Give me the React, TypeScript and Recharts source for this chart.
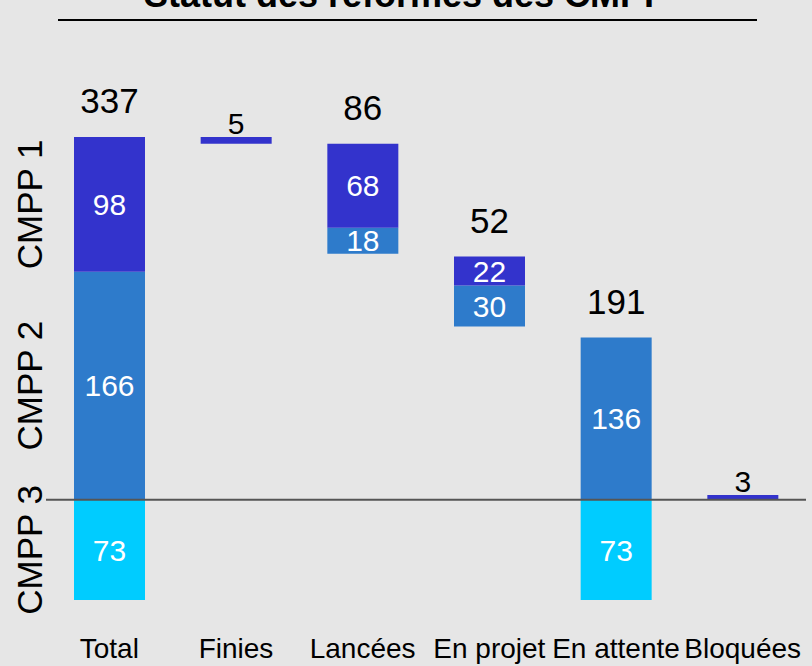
import React from 'react';
import { BarChart, Bar, XAxis, YAxis, ReferenceLine, LabelList } from 'recharts';

// categories and values
const categories = ['Total', 'Finies', 'Lancées', 'En projet', 'En attente', 'Bloquées'];
const seriesNames = ['CMPP 1', 'CMPP 2', 'CMPP 3'];

// floating segments [low, high] per category
const cmpp1Range: (number[] | null)[] = [[166, 264], [259, 264], [198, 259], [156, 177], null, [0, 3.5]];
const cmpp2Range: (number[] | null)[] = [[0, 166], null, [179, 198], [126, 156], [0, 118], null];
const cmpp3Range: (number[] | null)[] = [[-73, 0], null, null, null, [-73, 0], null];

// numbers printed in the segments
const cmpp1Labels = [98, null, 68, 22, null, null];
const cmpp2Labels = [166, null, 18, 30, 136, null];
const cmpp3Labels = [73, null, null, null, 73, null];

// numbers printed above each column
const totals = [337, 5, 86, 52, 191, 3];

const COLORS = ['#3333cc', '#2e7bcb', '#00ccff'];
const FONT = '"Liberation Sans", Arial, sans-serif';

const data = categories.map((name, i) => {
  const parts = [cmpp1Range[i], cmpp2Range[i], cmpp3Range[i]].filter(Boolean) as number[][];
  const span = [Math.min(...parts.map((p) => p[0])), Math.max(...parts.map((p) => p[1]))];
  return {
    name,
    c1: cmpp1Range[i],
    c2: cmpp2Range[i],
    c3: cmpp3Range[i],
    span,
    l1: cmpp1Labels[i],
    l2: cmpp2Labels[i],
    l3: cmpp3Labels[i],
    total: totals[i],
  };
});

// side labels sit at the middle of each segment of the Total column
const totalRanges = [cmpp1Range[0], cmpp2Range[0], cmpp3Range[0]] as number[][];
const sideTicks = totalRanges.map((r) => (r[0] + r[1]) / 2);

const SideTick = (props: any) => {
  const { x, y, payload } = props;
  const idx = sideTicks.indexOf(payload.value);
  return (
    <text
      transform={`translate(${x}, ${y}) rotate(-90)`}
      textAnchor="middle"
      dominantBaseline="central"
      fontSize={35}
      fontFamily={FONT}
      fill="#000"
    >
      {seriesNames[idx]}
    </text>
  );
};

const TopLabel = (props: any) => {
  const { x, y, width, height, value } = props;
  if (value == null) return null;
  const top = Math.min(Number(y), Number(y) + Number(height));
  const thin = Math.abs(Number(height)) < 12;
  return (
    <text
      x={Number(x) + Number(width) / 2}
      y={top - (thin ? 3 : 24)}
      textAnchor="middle"
      fontSize={thin ? 30 : 35}
      fontFamily={FONT}
      fill="#000"
    >
      {value}
    </text>
  );
};

const innerLabel = { fill: '#fff', fontSize: 30, fontFamily: FONT };

export default function App() {
  return (
    <div style={{ position: 'relative', width: 812, height: 666, background: '#e6e6e6', overflow: 'hidden', fontFamily: FONT }}>
      <style>{'body{margin:0}'}</style>
      <div
        style={{
          position: 'absolute',
          top: -23,
          left: 0,
          width: 812,
          textAlign: 'center',
          fontSize: 36,
          lineHeight: '36px',
          fontWeight: 'bold',
          color: '#000',
        }}
      >
        Statut des réformes des CMPP
      </div>
      <div style={{ position: 'absolute', top: 19, left: 58, width: 699, height: 2, background: '#000' }} />
      <BarChart
        width={812}
        height={666}
        data={data}
        margin={{ top: 137, right: 6, bottom: 0, left: 0 }}
        barSize={71}
        barGap={-71}
      >
        <XAxis
          dataKey="name"
          axisLine={false}
          tickLine={false}
          tickSize={0}
          tickMargin={38}
          height={66}
          interval={0}
          tick={{ fill: '#000', fontSize: 28, fontFamily: FONT }}
        />
        <YAxis
          type="number"
          domain={[-73, 264]}
          allowDataOverflow
          ticks={sideTicks}
          axisLine={false}
          tickLine={false}
          tickSize={0}
          tickMargin={17}
          width={46}
          tick={<SideTick />}
        />
        <ReferenceLine y={0} stroke="#555555" strokeWidth={2} />
        <Bar dataKey="span" fill="none" isAnimationActive={false}>
          <LabelList dataKey="total" content={<TopLabel />} />
        </Bar>
        <Bar dataKey="c3" fill={COLORS[2]} isAnimationActive={false}>
          <LabelList dataKey="l3" position="center" style={innerLabel} />
        </Bar>
        <Bar dataKey="c2" fill={COLORS[1]} isAnimationActive={false}>
          <LabelList dataKey="l2" position="center" style={innerLabel} />
        </Bar>
        <Bar dataKey="c1" fill={COLORS[0]} isAnimationActive={false}>
          <LabelList dataKey="l1" position="center" style={innerLabel} />
        </Bar>
      </BarChart>
    </div>
  );
}
